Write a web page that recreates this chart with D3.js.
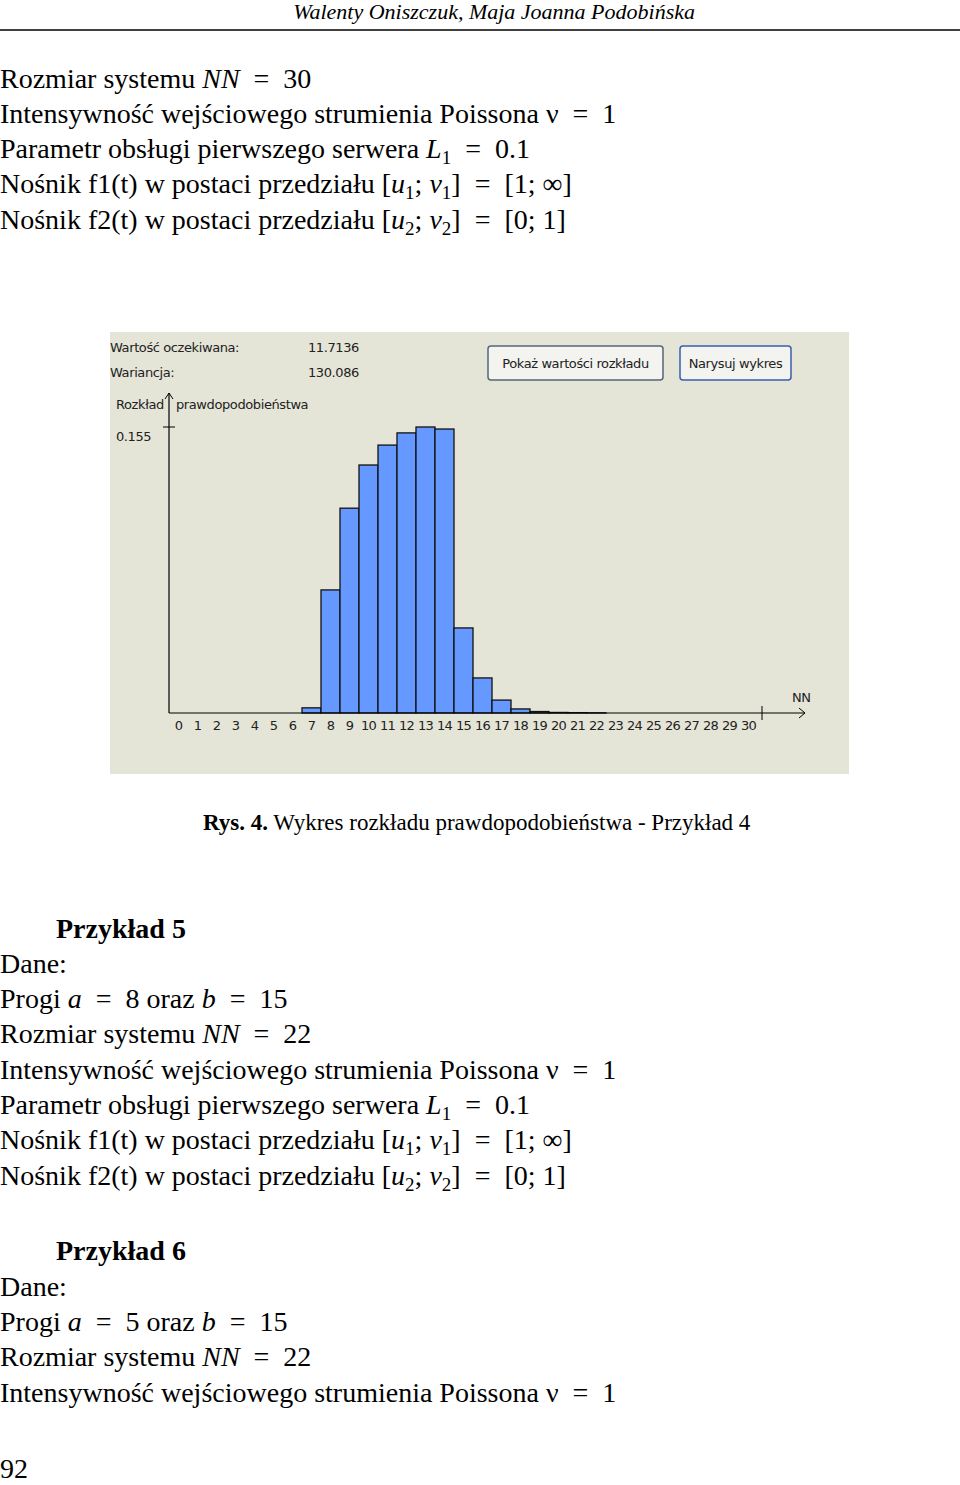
<!DOCTYPE html>
<html><head><meta charset="utf-8">
<script src="https://cdn.jsdelivr.net/npm/d3@7"></script>
<style>body{margin:0;background:#fff}</style>
</head><body>
<svg id="page" width="960" height="1485"></svg>
<script>
// values
var states = d3.range(0, 31);
var probs = [0,0,0,0,0,0,0,0.0028,0.0667,0.111,0.1344,0.1452,0.1518,0.155,0.1539,
  0.0461,0.019,0.0070,0.0022,0.0008,0.0003,0.0002,0.0001,0,0,0,0,0,0,0,0];
var yMaxLabel = "0.155";
var mean = "11.7136", variance = "130.086";

var svg = d3.select("#page");
var serif = "'Liberation Serif', 'DejaVu Serif', serif";
var sans = "Tahoma, 'DejaVu Sans', sans-serif";
var EQ = "\u2002=\u2002";

// header
svg.append("text").attr("x", 695).attr("y", 19).attr("text-anchor", "end")
  .attr("font-family", serif).attr("font-style", "italic").attr("font-size", 22)
  .text("Walenty Oniszczuk, Maja Joanna Podobińska");
svg.append("line").attr("x1", 0).attr("x2", 960).attr("y1", 30).attr("y2", 30)
  .attr("stroke", "#000").attr("stroke-width", 1.3);

// text line helper: parts [text, style] where style i=italic, s=subscript, b=bold, u=back up
function line(x, y, parts, size) {
  var t = svg.append("text").attr("x", x).attr("y", y)
    .attr("font-family", serif).attr("font-size", size || 28);
  parts.forEach(function(p) {
    if (typeof p === "string") p = [p, ""];
    var ts = t.append("tspan").text(p[0]);
    if (p[1].indexOf("i") >= 0) ts.attr("font-style", "italic");
    if (p[1].indexOf("b") >= 0) ts.attr("font-weight", "bold");
    if (p[1].indexOf("s") >= 0) ts.attr("font-size", 19).attr("dy", 6);
    if (p[1].indexOf("u") >= 0) ts.attr("dy", -6);
  });
}
var rozmiar = function(n) { return ["Rozmiar systemu ", ["NN", "i"], EQ + n]; };
var intens = ["Intensywność wejściowego strumienia Poissona ν" + EQ + "1"];
var param = ["Parametr obsługi pierwszego serwera ", ["L", "i"], ["1", "s"], [EQ + "0.1", "u"]];
var nosnik1 = ["Nośnik f1(t) w postaci przedziału [", ["u", "i"], ["1", "s"], ["; ", "u"], ["v", "i"], ["1", "s"], ["]" + EQ + "[1; ∞]", "u"]];
var nosnik2 = ["Nośnik f2(t) w postaci przedziału [", ["u", "i"], ["2", "s"], ["; ", "u"], ["v", "i"], ["2", "s"], ["]" + EQ + "[0; 1]", "u"]];

line(0, 88, rozmiar(30));
line(0, 123, intens);
line(0, 158, param);
line(0, 193, nosnik1);
line(0, 229, nosnik2);

// chart panel
var panel = svg.append("g");
panel.append("rect").attr("x", 110).attr("y", 332).attr("width", 739).attr("height", 442)
  .attr("fill", "#e5e5d7");
function small(x, y, s) {
  panel.append("text").attr("x", x).attr("y", y).attr("font-family", sans)
    .attr("font-size", 13).attr("letter-spacing", -0.4).attr("fill", "#222").text(s);
}
small(110, 352, "Wartość oczekiwana:");
small(308, 352, mean);
small(110, 377, "Wariancja:");
small(308, 377, variance);
small(116, 409, "Rozkład");
small(176, 409, "prawdopodobieństwa");
small(116, 441, yMaxLabel);

function button(x, w, label, border) {
  panel.append("rect").attr("x", x).attr("y", 346).attr("width", w).attr("height", 34)
    .attr("rx", 3).attr("fill", "#f3f3ef").attr("stroke", border).attr("stroke-width", 1.5);
  panel.append("text").attr("x", x + w / 2).attr("y", 368).attr("text-anchor", "middle")
    .attr("font-family", sans).attr("font-size", 13).attr("letter-spacing", -0.4)
    .attr("fill", "#222").text(label);
}
button(488, 175, "Pokaż wartości rozkładu", "#55667a");
button(680, 111, "Narysuj wykres", "#3a5fb0");

var x = d3.scaleBand().domain(states).range([169, 758]).padding(0);
var y = d3.scaleLinear().domain([0, 0.155]).range([713, 427]);

panel.selectAll("rect.bar").data(probs).enter().append("rect").attr("class", "bar")
  .attr("x", function(d, i) { return x(states[i]); })
  .attr("y", function(d) { return y(d); })
  .attr("width", x.bandwidth())
  .attr("height", function(d) { return 713 - y(d); })
  .attr("fill", "#6699ff").attr("stroke", "#111").attr("stroke-width", 1.3);

// axes
panel.append("line").attr("x1", 169).attr("x2", 805).attr("y1", 713).attr("y2", 713)
  .attr("stroke", "#000").attr("stroke-width", 1.2);
panel.append("path").attr("d", "M799,708L805,713L799,718").attr("fill", "none").attr("stroke", "#000");
panel.append("line").attr("x1", 762).attr("x2", 762).attr("y1", 706).attr("y2", 720).attr("stroke", "#000");
panel.append("line").attr("x1", 169).attr("x2", 169).attr("y1", 713).attr("y2", 393)
  .attr("stroke", "#000").attr("stroke-width", 1.2);
panel.append("path").attr("d", "M165,399L169,393L173,399").attr("fill", "none").attr("stroke", "#000");
panel.append("line").attr("x1", 163).attr("x2", 175).attr("y1", y(0.155)).attr("y2", y(0.155)).attr("stroke", "#000");
small(792, 702, "NN");

panel.selectAll("text.tick").data(states).enter().append("text").attr("class", "tick")
  .attr("x", function(d) { return x(d) + x.bandwidth() / 2; }).attr("y", 730)
  .attr("text-anchor", "middle").attr("font-family", sans).attr("font-size", 13)
  .attr("letter-spacing", -0.8).attr("fill", "#222").text(function(d) { return d; });

// caption
line(203, 830, [["Rys. 4.", "b"], " Wykres rozkładu prawdopodobieństwa - Przykład 4"], 23);

line(56, 938, [["Przykład 5", "b"]]);
line(0, 973, ["Dane:"]);
line(0, 1008, ["Progi ", ["a", "i"], EQ + "8 oraz ", ["b", "i"], EQ + "15"]);
line(0, 1043, rozmiar(22));
line(0, 1079, intens);
line(0, 1114, param);
line(0, 1149, nosnik1);
line(0, 1185, nosnik2);

line(56, 1260, [["Przykład 6", "b"]]);
line(0, 1296, ["Dane:"]);
line(0, 1331, ["Progi ", ["a", "i"], EQ + "5 oraz ", ["b", "i"], EQ + "15"]);
line(0, 1366, rozmiar(22));
line(0, 1402, intens);

line(0, 1478, ["92"]);
</script>
</body></html>
